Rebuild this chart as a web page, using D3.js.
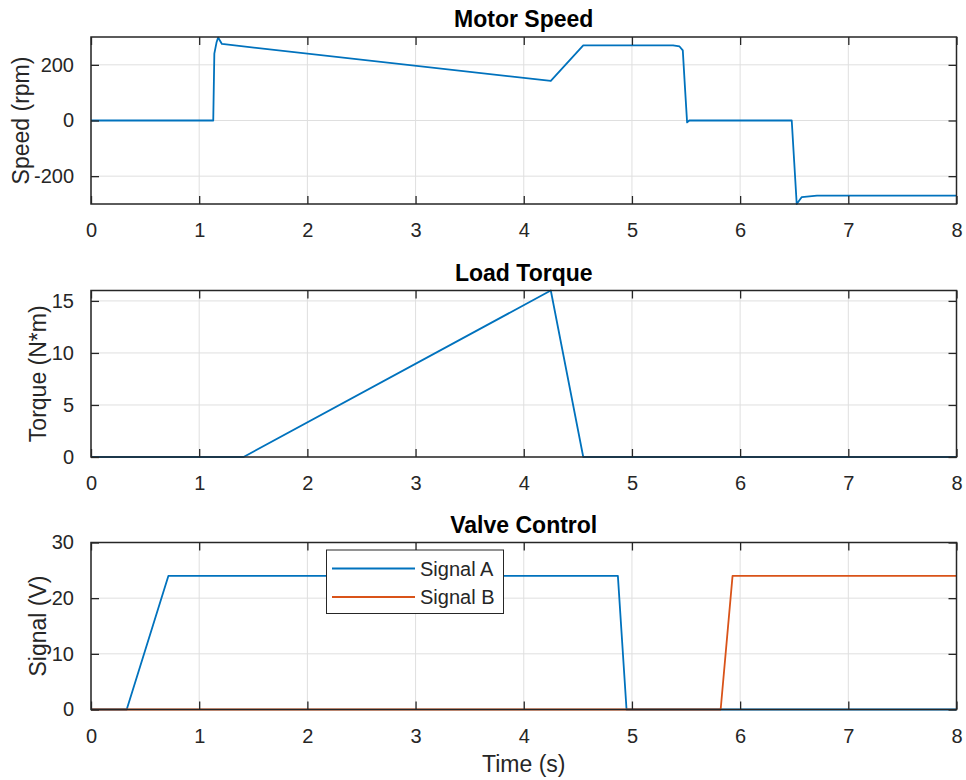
<!DOCTYPE html>
<html>
<head>
<meta charset="utf-8">
<script src="https://cdn.jsdelivr.net/npm/d3@7/dist/d3.min.js"></script>
<style>
  html, body { margin: 0; padding: 0; background: #fff; }
  svg { display: block; font-family: "Liberation Sans", Arial, sans-serif; }
</style>
</head>
<body>
<svg id="chart" width="966" height="780"></svg>
<script>
// ---------------- data ----------------
const xTicks = [0, 1, 2, 3, 4, 5, 6, 7, 8];

// Motor Speed
const speedTime  = [0, 1.13, 1.14, 1.16, 1.175, 1.21, 4.25, 4.55, 5.38, 5.44, 5.47, 5.49, 5.51, 5.53, 6.477, 6.50, 6.523, 6.57, 6.71, 8];
const speedValue = [0, 0, 240, 280, 298, 275, 142, 270, 270, 266, 252, 120, -7, 0, 0, -150, -300, -275, -270, -270];
const speedTicks = [-200, 0, 200];

// Load Torque
const torqueTime  = [0, 1.41, 4.25, 4.55, 8];
const torqueValue = [0, 0, 16, 0, 0];
const torqueTicks = [0, 5, 10, 15];

// Valve Control
const sigATime  = [0, 0.33, 0.715, 4.87, 4.95, 8];
const sigAValue = [0, 0, 24, 24, 0, 0];
const sigBTime  = [0, 5.82, 5.93, 8];
const sigBValue = [0, 0, 24, 24];
const signalTicks = [0, 10, 20, 30];

const legendLabels = ["Signal A", "Signal B"];
const colors = ["#0072BD", "#D95319"];

// ---------------- drawing ----------------
const svg = d3.select("#chart");
const left = 91, right = 956.5;
const axisColor = "#262626";

function panel(opts) {
  const { top, bottom, yDomain, yTicks, title, ylabel, series } = opts;
  const x = d3.scaleLinear().domain([0, 8]).range([left, right]);
  const y = d3.scaleLinear().domain(yDomain).range([bottom, top]);
  const g = svg.append("g");

  // grid
  g.append("g").selectAll("line").data(xTicks).join("line")
    .attr("x1", d => x(d)).attr("x2", d => x(d))
    .attr("y1", top).attr("y2", bottom)
    .attr("stroke", "#dfdfdf").attr("stroke-width", 1);
  g.append("g").selectAll("line").data(yTicks).join("line")
    .attr("x1", left).attr("x2", right)
    .attr("y1", d => y(d)).attr("y2", d => y(d))
    .attr("stroke", "#dfdfdf").attr("stroke-width", 1);

  // data lines
  const line = d3.line().x(d => x(d[0])).y(d => y(d[1]));
  series.forEach(s => {
    const pts = s.t.map((t, i) => [t, s.v[i]]);
    g.append("path").datum(pts)
      .attr("d", line)
      .attr("fill", "none")
      .attr("stroke", s.color)
      .attr("stroke-width", 1.8)
      .attr("stroke-linejoin", "round");
  });

  // axes (ticks inside)
  const tl = 8;
  const xb = d3.axisBottom(x).tickValues(xTicks).tickSizeInner(-tl).tickSizeOuter(0).tickPadding(tl + 11);
  const xt = d3.axisTop(x).tickValues(xTicks).tickSizeInner(-tl).tickSizeOuter(0).tickFormat("");
  const yl = d3.axisLeft(y).tickValues(yTicks).tickSizeInner(-tl).tickSizeOuter(0).tickPadding(tl + 9);
  const yr = d3.axisRight(y).tickValues(yTicks).tickSizeInner(-tl).tickSizeOuter(0).tickFormat("");

  const ax = [
    g.append("g").attr("transform", `translate(0,${bottom})`).call(xb),
    g.append("g").attr("transform", `translate(0,${top})`).call(xt),
    g.append("g").attr("transform", `translate(${left},0)`).call(yl),
    g.append("g").attr("transform", `translate(${right},0)`).call(yr)
  ];
  ax.forEach(a => {
    a.select(".domain").remove();
    a.selectAll(".tick line").attr("stroke", axisColor).attr("stroke-width", 1.3);
    a.selectAll(".tick text").attr("fill", axisColor).attr("font-size", 20)
      .attr("font-family", "Liberation Sans, Arial, sans-serif");
  });
  ax[2].selectAll(".tick text").text(d => d < 0 ? "-" + Math.abs(d) : d);

  // box
  g.append("rect").attr("x", left).attr("y", top)
    .attr("width", right - left).attr("height", bottom - top)
    .attr("fill", "none").attr("stroke", axisColor).attr("stroke-width", 1.5);

  // title
  g.append("text").attr("x", (left + right) / 2).attr("y", top - 10)
    .attr("text-anchor", "middle").attr("font-size", 23).attr("font-weight", "bold")
    .attr("fill", "#000").text(title);

  // y label
  g.append("text")
    .attr("transform", `translate(${opts.ylabelX},${(top + bottom) / 2}) rotate(-90)`)
    .attr("text-anchor", "middle").attr("font-size", 23).attr("fill", axisColor)
    .text(ylabel);

  return { x, y, g };
}

panel({
  top: 37, bottom: 204, yDomain: [-300, 300], yTicks: speedTicks,
  title: "Motor Speed", ylabel: "Speed (rpm)", ylabelX: 29,
  series: [{ t: speedTime, v: speedValue, color: colors[0] }]
});

panel({
  top: 290.5, bottom: 457, yDomain: [0, 16], yTicks: torqueTicks,
  title: "Load Torque", ylabel: "Torque (N*m)", ylabelX: 46,
  series: [{ t: torqueTime, v: torqueValue, color: colors[0] }]
});

const p3 = panel({
  top: 542.5, bottom: 709.5, yDomain: [0, 30], yTicks: signalTicks,
  title: "Valve Control", ylabel: "Signal (V)", ylabelX: 46,
  series: [
    { t: sigATime, v: sigAValue, color: colors[0] },
    { t: sigBTime, v: sigBValue, color: colors[1] }
  ]
});

// x label
svg.append("text").attr("x", (left + right) / 2).attr("y", 772)
  .attr("text-anchor", "middle").attr("font-size", 23).attr("fill", axisColor)
  .text("Time (s)");

// legend
const lg = svg.append("g");
lg.append("rect").attr("x", 326.5).attr("y", 550).attr("width", 177).attr("height", 63.5)
  .attr("fill", "#fff").attr("stroke", axisColor).attr("stroke-width", 1);
legendLabels.forEach((lab, i) => {
  const yy = 568.5 + i * 28.5;
  lg.append("line").attr("x1", 332).attr("x2", 415).attr("y1", yy).attr("y2", yy)
    .attr("stroke", colors[i]).attr("stroke-width", 1.8);
  lg.append("text").attr("x", 420).attr("y", yy).attr("dy", "0.35em")
    .attr("font-size", 20).attr("fill", axisColor).text(lab);
});
</script>
</body>
</html>
